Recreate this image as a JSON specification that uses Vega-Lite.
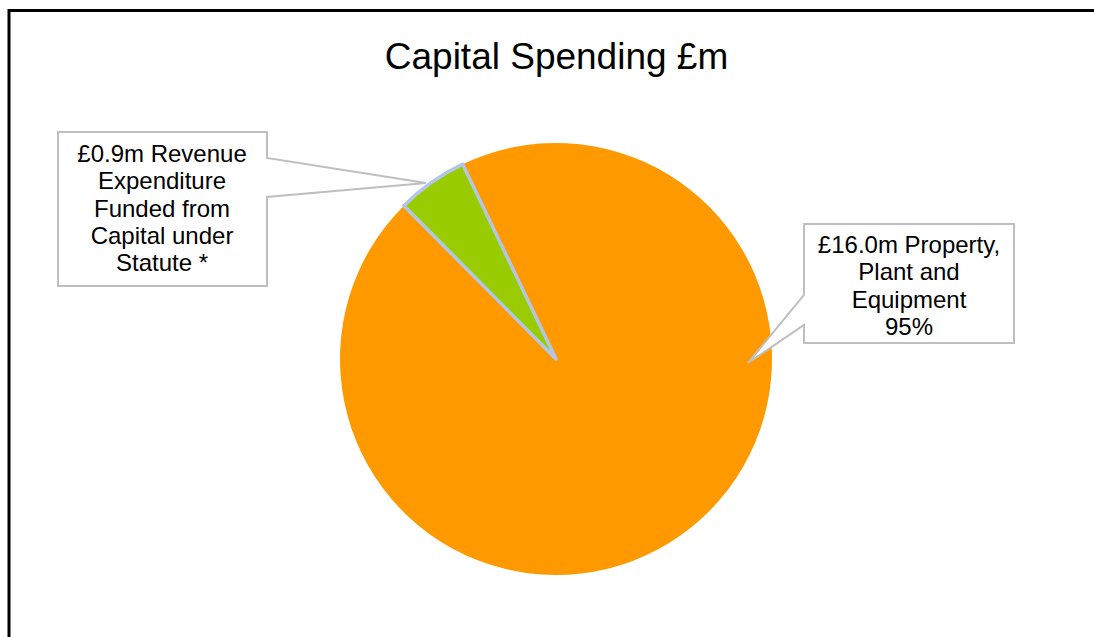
{
  "$schema": "https://vega.github.io/schema/vega-lite/v6.json",
  "autosize": "none",
  "width": 1094,
  "height": 637,
  "padding": 0,
  "background": "#FFFFFF",
  "config": {
    "view": {"stroke": null},
    "font": "Liberation Sans"
  },
  "title": {
    "text": "Capital Spending £m",
    "font": "Liberation Sans",
    "fontSize": 37,
    "fontWeight": "normal",
    "color": "#000000",
    "anchor": "middle",
    "baseline": "alphabetic",
    "offset": -106,
    "dx": 9.5
  },
  "datasets": {
    "frame": [
      {"x": -547, "x2": 700, "y": 348.5, "y2": -400}
    ],
    "slices": [
      {"category": "Property, Plant and Equipment", "value": 16.0, "seq": 1},
      {"category": "Revenue Expenditure Funded from Capital under Statute", "value": 0.9, "seq": 2}
    ],
    "callouts": [
      {"callout": "L", "seq": 1, "x": -498, "y": 227},
      {"callout": "L", "seq": 2, "x": -289, "y": 227},
      {"callout": "L", "seq": 3, "x": -289, "y": 201},
      {"callout": "L", "seq": 4, "x": -130, "y": 176},
      {"callout": "L", "seq": 5, "x": -289, "y": 162},
      {"callout": "L", "seq": 6, "x": -289, "y": 73},
      {"callout": "L", "seq": 7, "x": -498, "y": 73},
      {"callout": "L", "seq": 8, "x": -498, "y": 227},
      {"callout": "R", "seq": 1, "x": 248, "y": 135},
      {"callout": "R", "seq": 2, "x": 458, "y": 135},
      {"callout": "R", "seq": 3, "x": 458, "y": 16},
      {"callout": "R", "seq": 4, "x": 248, "y": 16},
      {"callout": "R", "seq": 5, "x": 248, "y": 34},
      {"callout": "R", "seq": 6, "x": 192, "y": -4},
      {"callout": "R", "seq": 7, "x": 248, "y": 64},
      {"callout": "R", "seq": 8, "x": 248, "y": 135}
    ],
    "labels": [
      {"label": "£0.9m Revenue\nExpenditure\nFunded from\nCapital under\nStatute *", "x": -394, "y": 204},
      {"label": "£16.0m Property,\nPlant and\nEquipment\n95%", "x": 353, "y": 113}
    ]
  },
  "layer": [
    {
      "data": {"name": "frame"},
      "mark": {"type": "rect", "filled": false, "stroke": "#000000", "strokeWidth": 3},
      "encoding": {
        "x": {"field": "x", "type": "quantitative", "scale": {"domain": [-556, 538], "nice": false, "zero": false}, "axis": null},
        "x2": {"field": "x2"},
        "y": {"field": "y", "type": "quantitative", "scale": {"domain": [-278, 359], "nice": false, "zero": false}, "axis": null},
        "y2": {"field": "y2"}
      }
    },
    {
      "data": {"name": "slices"},
      "mark": {"type": "arc", "outerRadius": 216, "stroke": "#B4C6E7", "strokeJoin": "round"},
      "encoding": {
        "theta": {"field": "value", "type": "quantitative", "stack": true, "scale": {"range": [-0.4468, 5.8364], "nice": false}},
        "order": {"field": "seq", "type": "quantitative"},
        "color": {
          "field": "category",
          "type": "nominal",
          "scale": {
            "domain": ["Property, Plant and Equipment", "Revenue Expenditure Funded from Capital under Statute"],
            "range": ["#FF9900", "#99CC00"]
          },
          "legend": null
        },
        "strokeWidth": {"condition": {"test": "datum.seq === 2", "value": 3.5}, "value": 0},
        "x": {"datum": 0, "type": "quantitative"},
        "y": {"datum": 0, "type": "quantitative"}
      }
    },
    {
      "data": {"name": "callouts"},
      "mark": {"type": "line", "fill": "#FFFFFF", "stroke": "#BFBFBF", "strokeWidth": 2, "strokeJoin": "miter", "strokeCap": "square", "interpolate": "linear"},
      "encoding": {
        "x": {"field": "x", "type": "quantitative"},
        "y": {"field": "y", "type": "quantitative"},
        "detail": {"field": "callout", "type": "nominal"},
        "order": {"field": "seq", "type": "quantitative"}
      }
    },
    {
      "data": {"name": "labels"},
      "mark": {"type": "text", "font": "Liberation Sans", "fontSize": 24, "lineHeight": 27.3, "lineBreak": "\n", "align": "center", "baseline": "middle", "color": "#000000"},
      "encoding": {
        "x": {"field": "x", "type": "quantitative"},
        "y": {"field": "y", "type": "quantitative"},
        "text": {"field": "label", "type": "nominal"}
      }
    }
  ]
}
